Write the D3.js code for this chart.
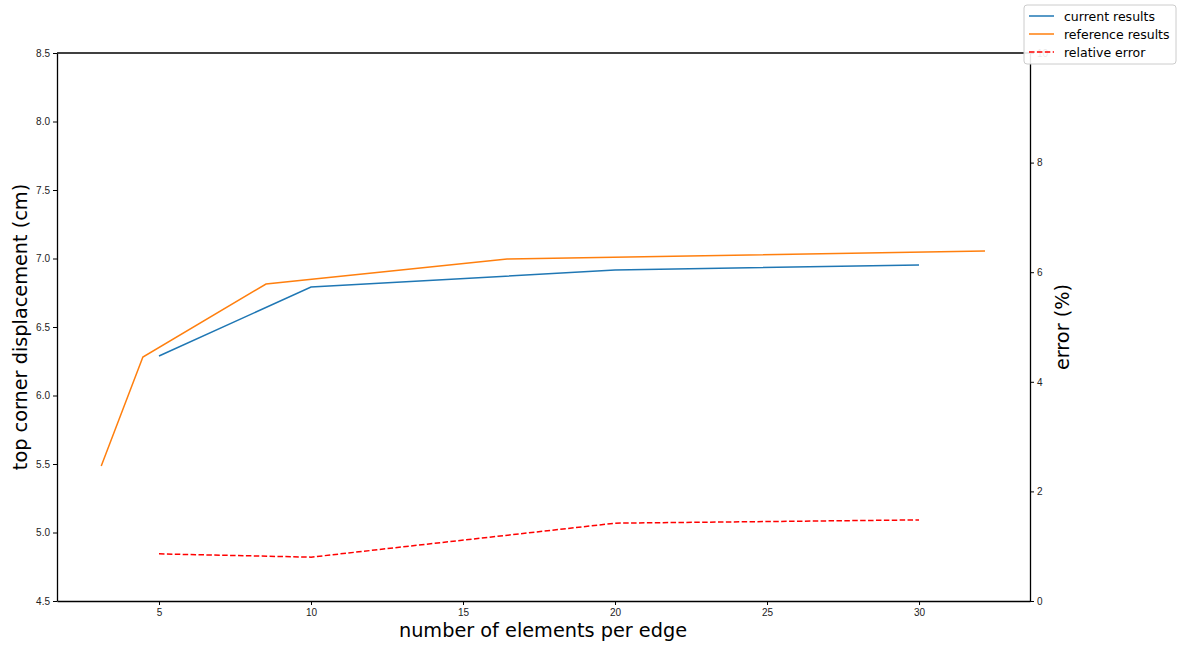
<!DOCTYPE html>
<html>
<head>
<meta charset="utf-8">
<script src="https://cdn.jsdelivr.net/npm/d3@7"></script>
<style>
  body { margin: 0; background: #fff; }
  svg { font-family: "DejaVu Sans", sans-serif; }
</style>
</head>
<body>
<div id="chart"></div>
<script>
let width = 1189, height = 645;

// Data
const currentX = [5, 10, 20, 30];
const currentY = [6.288, 6.792, 6.916, 6.953];
const referenceX = [3.1, 4.47, 8.52, 16.45, 32.17];
const referenceY = [5.485, 6.281, 6.814, 6.996, 7.054];
const errorX = [5, 10, 20, 30];
const errorY = [0.86, 0.80, 1.42, 1.48];
const leftTicks = [4.5, 5.0, 5.5, 6.0, 6.5, 7.0, 7.5, 8.0, 8.5];
const rightTicks = [0, 2, 4, 6, 8, 10];
const xTicks = [5, 10, 15, 20, 25, 30];
const legendLabels = ['current results', 'reference results', 'relative error'];

const margin = { left: 57, right: 1189 - 1030, top: 53, bottom: 645 - 601 };

const svg = d3.select('#chart').append('svg')
  .attr('width', width)
  .attr('height', height);

const x = d3.scaleLinear().domain([1.645, 33.65]).range([margin.left, width - margin.right]);
const yL = d3.scaleLinear().domain([4.5, 8.5]).range([height - margin.bottom, margin.top]);
const yR = d3.scaleLinear().domain([0, 10]).range([height - margin.bottom, margin.top]);

// Axes
const styleAxis = (g) => {
  g.selectAll('path').attr('stroke', '#000').attr('stroke-width', 1.3);
  g.selectAll('line').attr('stroke', '#000').attr('stroke-width', 1);
  g.selectAll('text').attr('font-size', 10).attr('fill', '#222');
};

svg.append('g')
  .attr('transform', `translate(0,${height - margin.bottom})`)
  .call(d3.axisBottom(x).tickValues(xTicks).tickSize(4).tickSizeOuter(0).tickPadding(4))
  .call(styleAxis);

svg.append('g')
  .attr('transform', `translate(${margin.left},0)`)
  .call(d3.axisLeft(yL).tickValues(leftTicks).tickFormat(d3.format('.1f')).tickSize(4).tickSizeOuter(0).tickPadding(3))
  .call(styleAxis);

svg.append('g')
  .attr('transform', `translate(${width - margin.right},0)`)
  .call(d3.axisRight(yR).tickValues(rightTicks).tickSize(4).tickSizeOuter(0).tickPadding(3))
  .call(styleAxis);

// Top spine
svg.append('line')
  .attr('x1', margin.left).attr('x2', width - margin.right)
  .attr('y1', margin.top).attr('y2', margin.top)
  .attr('stroke', '#000').attr('stroke-width', 1.3);

// Axis labels
svg.append('text')
  .attr('x', 543)
  .attr('y', 637)
  .attr('text-anchor', 'middle')
  .attr('font-size', 19.3)
  .text('number of elements per edge');

svg.append('text')
  .attr('transform', `translate(27,${(margin.top + height - margin.bottom) / 2}) rotate(-90)`)
  .attr('text-anchor', 'middle')
  .attr('font-size', 19.3)
  .text('top corner displacement (cm)');

svg.append('text')
  .attr('transform', `translate(1069,${(margin.top + height - margin.bottom) / 2}) rotate(-90)`)
  .attr('text-anchor', 'middle')
  .attr('font-size', 19.3)
  .text('error (%)');

// Lines
const lineL = d3.line().x((d) => x(d[0])).y((d) => yL(d[1]));
const lineR = d3.line().x((d) => x(d[0])).y((d) => yR(d[1]));

svg.append('path')
  .datum(d3.zip(currentX, currentY))
  .attr('d', lineL)
  .attr('fill', 'none')
  .attr('stroke', '#1f77b4')
  .attr('stroke-width', 1.5);

svg.append('path')
  .datum(d3.zip(referenceX, referenceY))
  .attr('d', lineL)
  .attr('fill', 'none')
  .attr('stroke', '#ff7f0e')
  .attr('stroke-width', 1.5);

svg.append('path')
  .datum(d3.zip(errorX, errorY))
  .attr('d', lineR)
  .attr('fill', 'none')
  .attr('stroke', 'red')
  .attr('stroke-width', 1.5)
  .attr('stroke-dasharray', '5.5,2.4');

// Legend
const legend = svg.append('g').attr('transform', 'translate(1024,5)');
legend.append('rect')
  .attr('x', 0).attr('y', 0)
  .attr('width', 152).attr('height', 59)
  .attr('rx', 3)
  .attr('fill', '#fff')
  .attr('fill-opacity', 0.9)
  .attr('stroke', '#ccc');

const legendStyles = [
  { color: '#1f77b4', dash: null },
  { color: '#ff7f0e', dash: null },
  { color: 'red', dash: '5.5,2.4' }
];

legendLabels.forEach((label, i) => {
  const yy = 11 + i * 18;
  legend.append('line')
    .attr('x1', 5).attr('x2', 30)
    .attr('y1', yy).attr('y2', yy)
    .attr('stroke', legendStyles[i].color)
    .attr('stroke-width', 1.5)
    .attr('stroke-dasharray', legendStyles[i].dash);
  legend.append('text')
    .attr('x', 40).attr('y', yy + 4.5)
    .attr('font-size', 12.5)
    .attr('fill', '#000')
    .text(label);
});
</script>
</body>
</html>
